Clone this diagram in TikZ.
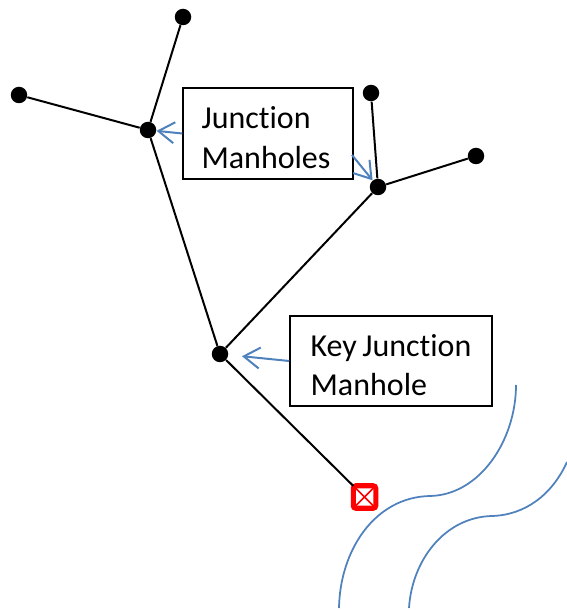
\documentclass[tikz,border=0pt]{standalone}
\usepackage{fontspec}
\setmainfont[Ligatures=NoCommon, WordSpace=0.75]{Carlito}
\usetikzlibrary{arrows.meta}
\tikzset{
	manhole/.style={circle, fill=black, inner sep=0pt, minimum size=0.33cm},
	pipe/.style={line width=0.04cm, color=black},
	labelbox/.style={draw=black, line width=0.03cm, fill=white, align=left, font=\fontsize{18.2pt}{22.4pt}\selectfont, inner sep=0pt},
	pointer/.style={line width=0.04cm, color=arrowblue, -{Straight Barb[length=0.32cm, width=0.42cm]}},
	stream/.style={line width=0.035cm, color=arrowblue}
}
\definecolor{arrowblue}{HTML}{4F81BD}
\begin{document}
\begin{tikzpicture}
	%%%%% START %%%%%
	
	\useasboundingbox (0, 0) rectangle (11.34, 12.2);
	
	\node[manhole] (top) at (3.66, 11.86) {};
	\node[manhole] (left) at (0.38, 10.3) {};
	\node[manhole] (westjunction) at (2.96, 9.6) {};
	\node[manhole] (upper) at (7.42, 10.34) {};
	\node[manhole] (right) at (9.52, 9.08) {};
	\node[manhole] (eastjunction) at (7.56, 8.46) {};
	\node[manhole] (keyjunction) at (4.4, 5.12) {};
	
	\node[draw=red, line width=0.1cm, fill=white, rounded corners=0.05cm, inner sep=0pt, outer sep=0pt, minimum size=0.45cm] (outlet) at (7.29, 2.26) {};
	\draw[red, line width=0.03cm, shorten <=0.05cm, shorten >=0.05cm] (outlet.north west) -- (outlet.south east);
	\draw[red, line width=0.03cm, shorten <=0.05cm, shorten >=0.05cm] (outlet.north east) -- (outlet.south west);
	
	\draw[pipe] (top) -- (westjunction);
	\draw[pipe] (left) -- (westjunction);
	\draw[pipe] (westjunction) -- (keyjunction);
	\draw[pipe] (upper) -- (eastjunction);
	\draw[pipe] (right) -- (eastjunction);
	\draw[pipe] (eastjunction) -- (keyjunction);
	\draw[pipe] (keyjunction) -- (outlet);
	
	\node[labelbox, minimum width=3.4cm, minimum height=1.82cm] (junctionbox) at (5.36, 9.53) {\rule{0pt}{0.61cm}Junction\\Manholes\hspace*{0.08cm}};
	\node[labelbox, minimum width=4.04cm, minimum height=1.8cm] (keybox) at (7.82, 4.98) {\rule{0pt}{0.61cm}Key Junction\\Manhole};
	
	\coordinate (junctionexit) at (7.04, 9.1);
	
	\draw[pointer] (junctionbox.west) -- (westjunction);
	\draw[pointer] (junctionexit) -- (eastjunction);
	\draw[pointer, shorten >=0.27cm] (keybox.west) -- (keyjunction);
	
	\draw[stream] (6.78, 0.04) .. controls (6.8, 1.2) and (7.5, 2.26) .. (8.6, 2.28) .. controls (9.6, 2.3) and (10.32, 3.4) .. (10.32, 4.5);
	\draw[stream] (8.18, 0.04) .. controls (8.24, 1) and (8.9, 1.86) .. (9.84, 1.88) .. controls (10.5, 1.9) and (11.04, 2.3) .. (11.34, 2.96);
	
	%%%%% END %%%%%
\end{tikzpicture}
\end{document}
